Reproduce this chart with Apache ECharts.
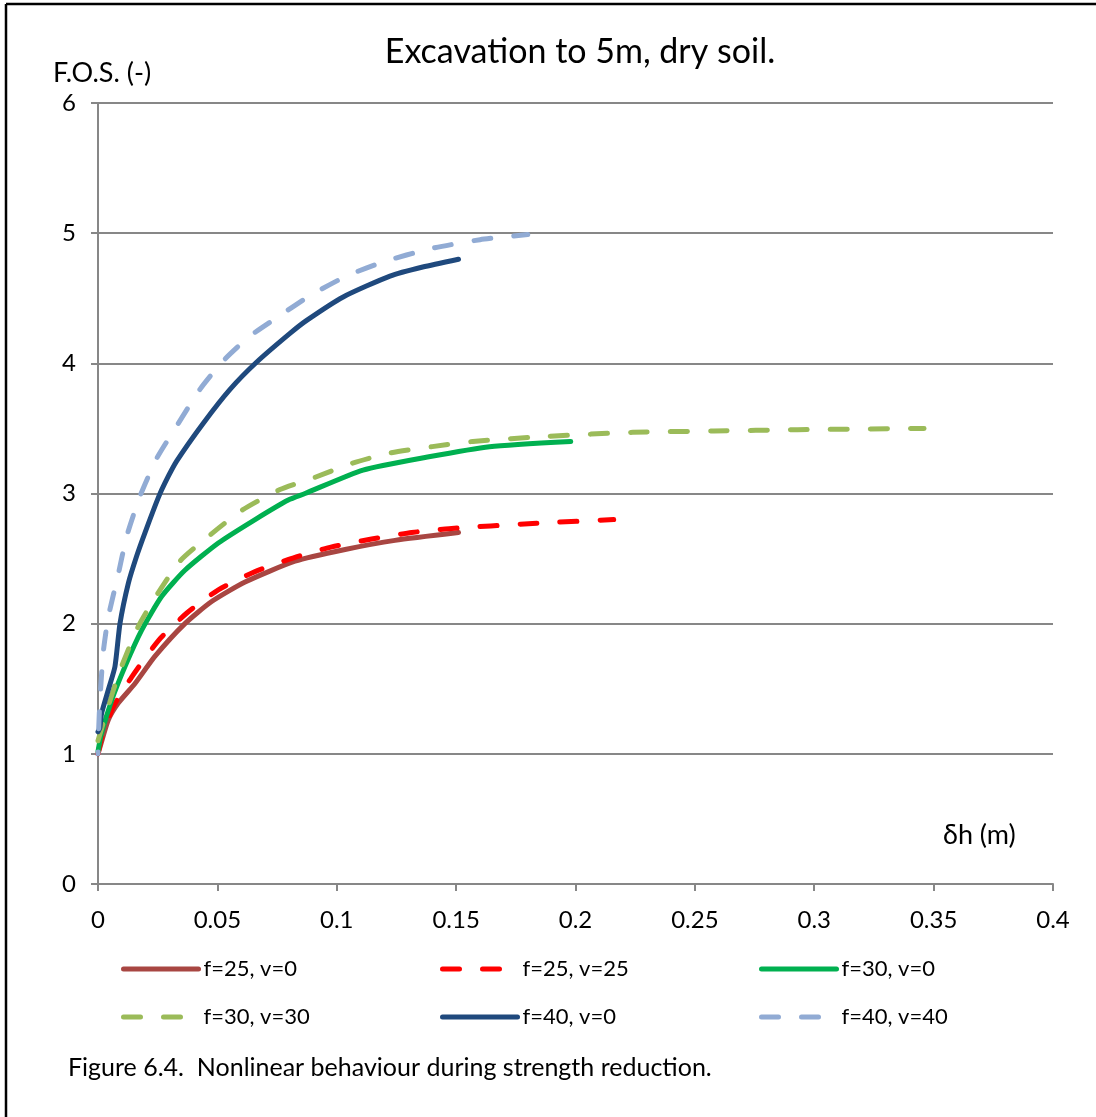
<!DOCTYPE html>
<html>
<head>
<meta charset="utf-8">
<title>Excavation to 5m, dry soil</title>
<script src="https://cdn.jsdelivr.net/npm/echarts@6/dist/echarts.min.js"></script>
<style>
  html, body { margin: 0; padding: 0; background: #fff; }
  #chart { width: 1096px; height: 1117px; }
</style>
</head>
<body>
<div id="chart"></div>
<script>
// [dh (m), F.O.S.]
const f25v0 = [[0, 1.0], [0.0008, 1.05], [0.0043, 1.26], [0.0085, 1.39], [0.0155, 1.54], [0.0239, 1.75],
  [0.0364, 2.0], [0.0476, 2.17], [0.0616, 2.32], [0.0825, 2.48], [0.1035, 2.57], [0.1244, 2.64], [0.151, 2.70]];
const f25v25 = [[0, 1.0], [0.0015, 1.12], [0.0064, 1.36], [0.0141, 1.59], [0.0253, 1.87], [0.0371, 2.08],
  [0.0504, 2.26], [0.0658, 2.40], [0.0825, 2.51], [0.0979, 2.59], [0.1146, 2.65], [0.1314, 2.70],
  [0.147, 2.73], [0.182, 2.77], [0.216, 2.80]];
const f30v0 = [[0, 1.02], [0.0015, 1.16], [0.0057, 1.41], [0.0113, 1.67], [0.0183, 1.95], [0.0267, 2.21],
  [0.0364, 2.41], [0.0504, 2.62], [0.0658, 2.80], [0.0797, 2.95], [0.0867, 3.0], [0.111, 3.18],
  [0.138, 3.28], [0.164, 3.36], [0.198, 3.40]];
const f30v30 = [[0, 1.1], [0.004, 1.35], [0.0092, 1.64], [0.0169, 1.98], [0.0246, 2.22], [0.0343, 2.48],
  [0.0462, 2.67], [0.0602, 2.87], [0.0762, 3.03], [0.0903, 3.12], [0.106, 3.23], [0.122, 3.31],
  [0.14, 3.36], [0.157, 3.40], [0.189, 3.44], [0.224, 3.47], [0.258, 3.48], [0.293, 3.49], [0.346, 3.50]];
const f40v0 = [[0, 1.17], [0.0008, 1.2], [0.0015, 1.31], [0.0043, 1.49], [0.0071, 1.67], [0.0092, 2.0],
  [0.0127, 2.31], [0.0162, 2.52], [0.0197, 2.70], [0.0253, 2.97], [0.028, 3.08], [0.033, 3.25],
  [0.0441, 3.54], [0.0553, 3.80], [0.0665, 4.01], [0.0804, 4.23], [0.0874, 4.33], [0.1027, 4.51],
  [0.1223, 4.67], [0.136, 4.74], [0.151, 4.80]];
const f40v40 = [[0, 1.0], [0.0003, 1.2], [0.0008, 1.41], [0.0022, 1.78], [0.0043, 2.05], [0.0085, 2.38],
  [0.012, 2.67], [0.0176, 2.98], [0.0246, 3.27], [0.033, 3.52], [0.0427, 3.80], [0.0525, 4.02],
  [0.0637, 4.21], [0.0748, 4.35], [0.0888, 4.52], [0.104, 4.67], [0.1195, 4.78], [0.139, 4.88],
  [0.16, 4.95], [0.18, 4.99]];

const seriesNames = ['f=25, v=0', 'f=25, v=25', 'f=30, v=0', 'f=30, v=30', 'f=40, v=0', 'f=40, v=40'];
const seriesData = [f25v0, f25v25, f30v0, f30v30, f40v0, f40v40];
const colors = ['#A84642', '#FF0000', '#00B050', '#9BBB59', '#1F497D', '#91ABD4'];
const dashed = [false, true, false, true, false, true];
const dashShift = [0, 0, 0, 0, 0, 15];

const font = 'Lato, "Open Sans", sans-serif';
const gray = '#878787';

const chart = echarts.init(document.getElementById('chart'));

function legendCol(left, names) {
  return {
    left: left,
    top: 951,
    orient: 'vertical',
    itemWidth: 75,
    itemHeight: 14,
    itemGap: 22,
    selectedMode: false,
    data: names,
    itemStyle: { opacity: 0 },
    lineStyle: { width: 5, cap: 'round', dashOffset: 0 },
    textStyle: { fontFamily: font, fontSize: 22, color: '#000', lineHeight: 26 }
  };
}

const option = {
  animation: false,
  color: colors,
  grid: { left: 98, right: 43, top: 103, bottom: 233 },
  legend: [
    legendCol(116, [seriesNames[0], seriesNames[3]]),
    legendCol(435, [seriesNames[1], seriesNames[4]]),
    legendCol(754, [seriesNames[2], seriesNames[5]])
  ],
  xAxis: {
    type: 'value',
    min: 0,
    max: 0.4,
    interval: 0.05,
    axisLine: { lineStyle: { color: gray, width: 2 } },
    axisTick: { show: true, length: 7, lineStyle: { color: gray, width: 2 } },
    axisLabel: { fontFamily: font, fontSize: 24, color: '#000', margin: 24 },
    splitLine: { show: false }
  },
  yAxis: {
    type: 'value',
    min: 0,
    max: 6,
    interval: 1,
    axisLine: { show: true, lineStyle: { color: gray, width: 2 } },
    axisTick: { show: true, length: 7, lineStyle: { color: gray, width: 2 } },
    axisLabel: { fontFamily: font, fontSize: 24, color: '#000', margin: 22 },
    splitLine: { lineStyle: { color: gray, width: 2 } }
  },
  series: seriesNames.map((name, i) => ({
    name: name,
    type: 'line',
    data: seriesData[i],
    smooth: 0.2,
    symbol: 'none',
    lineStyle: {
      width: 5,
      color: colors[i],
      type: dashed[i] ? [17, 23] : 'solid',
      dashOffset: dashShift[i],
      cap: 'round',
      join: 'round'
    }
  })),
  graphic: [
    { type: 'line', shape: { x1: 6, y1: 4, x2: 1096, y2: 4 }, style: { stroke: '#000', lineWidth: 2.5 } },
    { type: 'line', shape: { x1: 6, y1: 4, x2: 6, y2: 1117 }, style: { stroke: '#000', lineWidth: 2.5 } },
    { type: 'text', x: 580, y: 52, style: { text: 'Excavation to 5m, dry soil.', fontFamily: font, fontSize: 34,
      fill: '#000', align: 'center', verticalAlign: 'middle' } },
    { type: 'text', x: 53, y: 73, style: { text: 'F.O.S. (-)', fontFamily: font, fontSize: 27,
      fill: '#000', verticalAlign: 'middle' } },
    { type: 'text', x: 943, y: 835, style: { text: 'δh (m)', fontFamily: font, fontSize: 27,
      fill: '#000', verticalAlign: 'middle' } },
    { type: 'text', x: 68, y: 1068, style: { text: 'Figure 6.4.  Nonlinear behaviour during strength reduction.',
      fontFamily: font, fontSize: 25, fill: '#000', verticalAlign: 'middle' } }
  ]
};

chart.setOption(option);
window.addEventListener('resize', function () {
  chart.resize();
});
</script>
</body>
</html>
